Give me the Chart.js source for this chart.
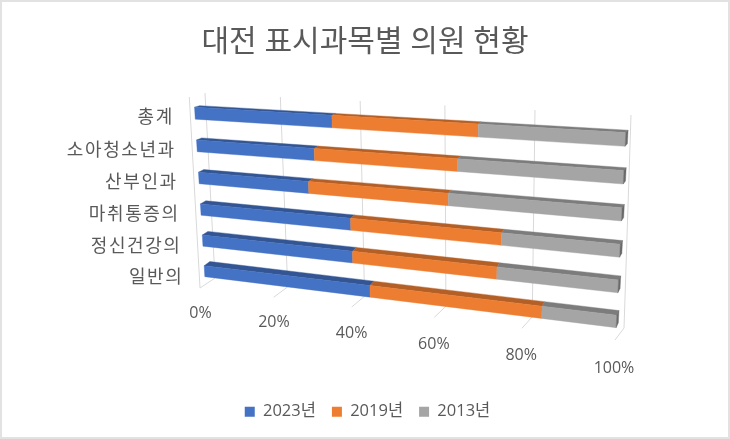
<!DOCTYPE html>
<html lang="ko">
<head>
<meta charset="utf-8">
<title>대전 표시과목별 의원 현황</title>
<script src="https://cdn.jsdelivr.net/npm/chart.js@4"></script>
<style>
  html, body { margin: 0; padding: 0; background: #fff; }
  #wrap { width: 730px; height: 439px; position: relative; overflow: hidden; }
  #wrap::after { content: ""; position: absolute; inset: 0; border: 2px solid #e2e2e2; pointer-events: none; }
  canvas { display: block; }
</style>
</head>
<body>
<div id="wrap"><canvas id="chart" width="730" height="439"></canvas></div>
<script>
const categories = ["총계", "소아청소년과", "산부인과", "마취통증의", "정신건강의", "일반의"];
const seriesNames = ["2023년", "2019년", "2013년"];
const values2023 = [35.3, 30.7, 29, 39.3, 39.6, 43.8];
const values2019 = [33.9, 34, 33.6, 35.4, 34.2, 40.2];
const values2013 = [30.8, 35.3, 37.4, 25.3, 26.2, 16];
const xTicks = [0, 20, 40, 60, 80, 100];

const FONT = '"Open Sans", "Noto Sans CJK KR", sans-serif';
const TEXT = "#595959";
const GRID = "#d9d9d9";

// front, top and side shade of each series
const colors = [
  { front: "#4472c4", top: "#335593", side: "#2a4a82" },
  { front: "#ed7d31", top: "#b45f26", side: "#a05520" },
  { front: "#a5a5a5", top: "#7c7c7c", side: "#6a6a6a" },
];

// Perspective planes, corners in order TL, TR, BR, BL
const barFrontQuad = [[193.9, 96.7], [626.4, 120.3], [615.6, 338.7], [205.4, 286.3]];
const barBackQuad = [[198.9, 95.2], [628.7, 118], [617.8, 333.7], [211.2, 281.7]];
const backWallQuad = [[205, 93], [631, 115], [624, 328], [215, 278]];
const frontWallQuad = [[189.3, 97], [622, 120], [615, 340], [200, 288]];

// unit square -> quad
function homography(q) {
  const [[x0, y0], [x1, y1], [x2, y2], [x3, y3]] = q;
  const dx1 = x1 - x2, dx2 = x3 - x2, sx = x0 - x1 + x2 - x3;
  const dy1 = y1 - y2, dy2 = y3 - y2, sy = y0 - y1 + y2 - y3;
  const den = dx1 * dy2 - dx2 * dy1;
  const g = (sx * dy2 - dx2 * sy) / den;
  const h = (dx1 * sy - sx * dy1) / den;
  const a = x1 - x0 + g * x1, b = x3 - x0 + h * x3;
  const d = y1 - y0 + g * y1, e = y3 - y0 + h * y3;
  return (u, v) => {
    const w = g * u + h * v + 1;
    return [(a * u + b * v + x0) / w, (d * u + e * v + y0) / w];
  };
}

function poly(ctx, pts, fill) {
  ctx.beginPath();
  pts.forEach((p, i) => (i ? ctx.lineTo(p[0], p[1]) : ctx.moveTo(p[0], p[1])));
  ctx.closePath();
  ctx.fillStyle = fill;
  ctx.strokeStyle = fill;
  ctx.lineWidth = 0.4;
  ctx.fill();
  ctx.stroke();
}

const perspectivePlugin = {
  id: "perspective",
  // legend sits a little right of centre in the original
  afterLayout(chart) {
    chart.legend.left += 2.5;
    chart.legend.right += 2.5;
  },
  // replaces the flat bars with projected ones
  beforeDatasetsDraw(chart) {
    const { ctx, chartArea: area, scales } = chart;
    const nu = (px) => (px - area.left) / (area.right - area.left);
    const nv = (py) => (py - area.top) / (area.bottom - area.top);
    const front = homography(barFrontQuad);
    const back = homography(barBackQuad);
    const wall = homography(backWallQuad);
    const frontWall = homography(frontWallQuad);

    ctx.save();

    // Grid on the back wall and the floor
    ctx.strokeStyle = GRID;
    ctx.lineWidth = 1;
    xTicks.forEach((tick) => {
      const u = nu(scales.x.getPixelForValue(tick));
      const top = wall(u, 0), bottom = wall(u, 1), near = frontWall(u, 1);
      ctx.beginPath();
      ctx.moveTo(top[0], top[1]);
      ctx.lineTo(bottom[0], bottom[1]);
      ctx.lineTo(near[0], near[1]);
      ctx.stroke();
      if (tick === 0) {
        const corner = frontWall(u, 0);
        ctx.beginPath();
        ctx.moveTo(corner[0], corner[1]);
        ctx.lineTo(near[0], near[1]);
        ctx.stroke();
      }
      // tick label under the floor edge
      ctx.fillStyle = TEXT;
      ctx.font = "16px " + FONT;
      ctx.textAlign = "center";
      ctx.textBaseline = "middle";
      ctx.fillText(tick + "%", near[0] - 1.5 * u + 0.5, near[1] + 25 + 3 * u);
    });

    // Bars
    chart.data.datasets.forEach((ds, di) => {
      const shade = colors[di];
      chart.getDatasetMeta(di).data.forEach((el) => {
        const u0 = nu(el.base), u1 = nu(el.x);
        const v0 = nv(el.y - el.height / 2), v1 = nv(el.y + el.height / 2);
        poly(ctx, [front(u0, v0), front(u1, v0), back(u1, v0), back(u0, v0)], shade.top);
        poly(ctx, [front(u0, v0), front(u1, v0), front(u1, v1), front(u0, v1)], shade.front);
        if (di === chart.data.datasets.length - 1) {
          poly(ctx, [front(u1, v0), back(u1, v0), back(u1, v1), front(u1, v1)], shade.side);
        }
      });
    });

    // Category labels
    ctx.fillStyle = TEXT;
    ctx.font = "18px " + FONT;
    ctx.letterSpacing = "1.6px";
    ctx.textAlign = "right";
    ctx.textBaseline = "middle";
    categories.forEach((name, i) => {
      const p = front(0, nv(scales.y.getPixelForValue(i)));
      ctx.fillText(name, p[0] - 21.1, p[1] + 4.5 + 0.4 * i);
    });

    ctx.restore();
    return false;
  },
};

new Chart(document.getElementById("chart"), {
  type: "bar",
  data: {
    labels: categories,
    datasets: [
      { label: seriesNames[0], data: values2023, backgroundColor: colors[0].front },
      { label: seriesNames[1], data: values2019, backgroundColor: colors[1].front },
      { label: seriesNames[2], data: values2013, backgroundColor: colors[2].front },
    ],
  },
  options: {
    indexAxis: "y",
    responsive: false,
    animation: false,
    categoryPercentage: 1,
    barPercentage: 0.36,
    layout: { padding: { bottom: 9 } },
    plugins: {
      title: {
        display: true,
        text: "대전 표시과목별 의원 현황",
        color: TEXT,
        font: { family: FONT, size: 30, weight: "normal" },
        padding: { top: 24, bottom: 10 },
      },
      legend: {
        position: "bottom",
        labels: {
          color: TEXT,
          font: { family: FONT, size: 16.5 },
          boxWidth: 10,
          boxHeight: 10,
          padding: 16,
        },
      },
      tooltip: { enabled: false },
    },
    scales: {
      x: { stacked: true, min: 0, max: 100, display: false },
      y: { stacked: true, display: false },
    },
  },
  plugins: [perspectivePlugin],
});
</script>
</body>
</html>
